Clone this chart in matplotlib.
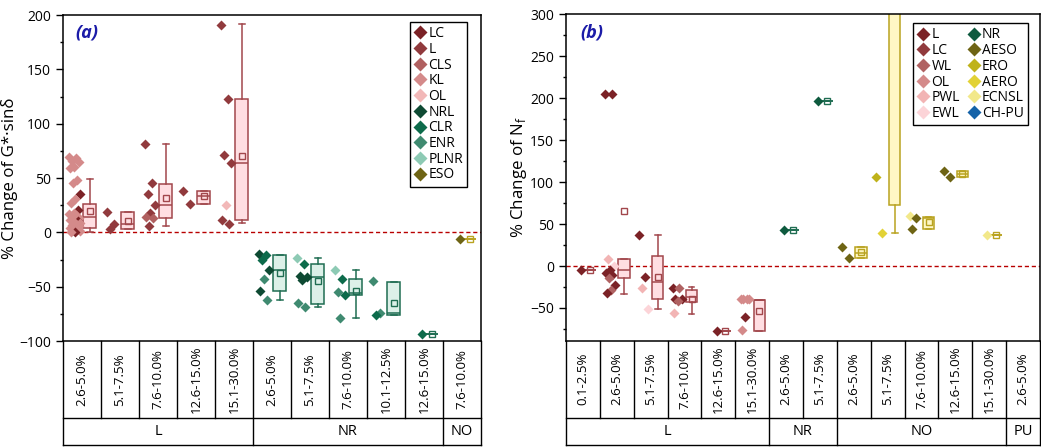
import matplotlib
matplotlib.use('Agg')
import matplotlib.pyplot as plt
import matplotlib.transforms as mtransforms
from matplotlib.lines import Line2D
from matplotlib.ticker import MultipleLocator

plt.rcParams['font.family'] = ['Open Sans', 'DejaVu Sans']
plt.rcParams['mathtext.fontset'] = 'custom'
plt.rcParams['mathtext.rm'] = 'Open Sans'

# ---------------- panel (a): G*sin(delta) ----------------
a_ranges = ['2.6-5.0%', '5.1-7.5%', '7.6-10.0%', '12.6-15.0%', '15.1-30.0%',
            '2.6-5.0%', '5.1-7.5%', '7.6-10.0%', '10.1-12.5%', '12.6-15.0%',
            '7.6-10.0%']
a_groups = ['L', 'NR', 'NO']
a_spans = [5, 5, 1]
a_kind = ['L'] * 5 + ['NR'] * 5 + ['NO']

# individual results, keyed by column
a_LC = {0: [35, 21, 10, 0]}
a_L = {1: [19, 8, 3], 2: [81.6, 45, 35, 25, 17.6, 6], 3: [38.5, 26.5],
       4: [191, 122.7, 71.4, 63.8, 11.5, 7.8]}
a_CLS = {2: [13, 14]}
a_KL = {0: [69, 68, 66, 65, 60, 59, 48, 45, 31, 27, 18, 17, 16, 15, 13, 12,
            11, 10, 9, 8, 7, 6, 5, 4, 3, 2, 1, 0]}
a_OL = {4: [25.3]}
a_NRL = {5: [-19.8, -34.6, -53.9], 6: [-39.8, -41.3, -43.8]}
a_CLR = {5: [-20.7, -25.3], 6: [-29], 7: [-43.2, -57.6], 8: [-76], 9: [-93.9]}
a_ENR = {5: [-43.2, -62.5], 6: [-65.3, -69], 7: [-54.5, -78.5], 8: [-44.7, -74.5]}
a_PLNR = {6: [-23.8], 7: [-34.6]}
a_ESO = {10: [-6.3]}

# box statistics per column
a_q1 = [4, 3, 13, 26.5, 11.5, -53.9, -65.9, -57.6, -76, -93.9, -6.3]
a_med = [14.3, 8, 25.3, 33, 63.8, -34.6, -41.3, -56, -74.5, -93.9, -6.3]
a_q3 = [26, 19, 44.7, 38.5, 122.7, -20.7, -29, -43.2, -45.3, -93.9, -6.3]
a_lo = [0, 3, 6, 26.5, 9, -62.5, -68.4, -78.5, -76, -93.9, -6.3]
a_hi = [49.3, 19, 81.6, 38.5, 191.5, -20.7, -23.5, -34.6, -45.3, -93.9, -6.3]
a_mean = [20, 10, 31.8, 33, 70.5, -37, -44.7, -53.9, -65.3, -93.9, -6.3]

# ---------------- panel (b): fatigue life ----------------
b_ranges = ['0.1-2.5%', '2.6-5.0%', '5.1-7.5%', '7.6-10.0%', '12.6-15.0%',
            '15.1-30.0%', '2.6-5.0%', '5.1-7.5%', '2.6-5.0%', '5.1-7.5%',
            '7.6-10.0%', '12.6-15.0%', '15.1-30.0%', '2.6-5.0%']
b_groups = ['L', 'NR', 'NO', 'PU']
b_spans = [6, 2, 5, 1]
b_kind = ['L'] * 6 + ['NR'] * 2 + ['NO'] * 5

b_L = {0: [-5], 1: [205, 205, -5.3, -8.5, -10.5, -22.6, -32.5],
       2: [36.5, -13.5], 3: [-26.6, -39.3, -39.3], 4: [-77.8], 5: [-60.5]}
b_LC = {}
b_WL = {1: [-14.5, -28.5], 3: [-26.6, -42]}
b_OL = {5: [-39.6, -39.6, -39.6, -39.6, -76]}
b_PWL = {1: [8.5], 2: [-26.5], 3: [-56.3]}
b_EWL = {1: [-0.3], 2: [-51.5]}
b_NR = {6: [43], 7: [197]}
b_AESO = {8: [10, 23], 10: [44, 56.7], 11: [105.6, 113.5]}
b_ERO = {9: [105.6]}
b_AERO = {9: [39]}
b_ECNSL = {10: [59.5], 12: [36.5]}
b_CHPU = {}

b_q1 = [-5, -14.3, -39.3, -43.3, -77.8, -77, 43, 197, 9.2, 73, 44.4, 106, 36.5]
b_med = [-5, -5.2, -19.5, -37.5, -77.8, -40.2, 43, 197, 16, 380, 56.7, 109.5, 36.5]
b_q3 = [-5, 8, 11.5, -28.3, -77.8, -40.2, 43, 197, 23, 460, 59, 112.7, 36.5]
b_lo = [-5, -33, -51.5, -57, -77.8, -77, 43, 197, 9.2, 39, 44.4, 106, 36.5]
b_hi = [-5, 8, 36.5, -25.4, -77.8, -40.2, 43, 197, 23, 460, 59, 112.7, 36.5]
b_mean = [-5, 65, -13.5, -39.6, -77.8, -53.5, 43, 197, 16.3, 330, 52.8, 109.5, 36.5]

box_face = {'L': '#ffdee2', 'NR': '#dcf0e8', 'NO': '#fff7c4'}
box_edge = {'L': '#a2474c', 'NR': '#1f6d52', 'NO': '#b9a321'}

a_series = [('LC', a_LC, '#7b2226'), ('L', a_L, '#913a3d'), ('CLS', a_CLS, '#b06060'),
            ('KL', a_KL, '#d48a8a'), ('OL', a_OL, '#f2b8b8'), ('NRL', a_NRL, '#0e4a33'),
            ('CLR', a_CLR, '#0d6b4b'), ('ENR', a_ENR, '#3f8a70'), ('PLNR', a_PLNR, '#8dcab4'),
            ('ESO', a_ESO, '#6e6414')]
b_series = [('L', b_L, '#7b2226'), ('LC', b_LC, '#913a3d'), ('WL', b_WL, '#b06262'),
            ('OL', b_OL, '#d48a8a'), ('PWL', b_PWL, '#f2b4b4'), ('EWL', b_EWL, '#fcd4d8'),
            ('NR', b_NR, '#0e5a3e'), ('AESO', b_AESO, '#6e6414'), ('ERO', b_ERO, '#bfb21a'),
            ('AERO', b_AERO, '#e2d236'), ('ECNSL', b_ECNSL, '#f2e88a'),
            ('CH-PU', b_CHPU, '#1462a8')]


def draw_points(ax, series, ncol):
    for i in range(ncol):
        pts = []
        for name, data, color in series:
            for v in data.get(i, []):
                pts.append((v, color))
        pts.sort(key=lambda p: -p[0])
        for k, (v, c) in enumerate(pts):
            if len(pts) == 1:
                off = -0.05
            else:
                off = -0.34 + 0.30 * ((k * 0.618034) % 1)
            ax.plot(i + off, v, marker='D', ms=4.9, color=c, mec='none',
                    ls='none', zorder=3)


def draw_boxes(ax, kinds, q1, med, q3, lo, hi, mean):
    for i, kind in enumerate(kinds):
        st = dict(q1=q1[i], med=med[i], q3=q3[i], whislo=lo[i], whishi=hi[i],
                  mean=mean[i], fliers=[])
        e = box_edge[kind]
        ax.bxp([st], positions=[i + 0.21], widths=0.34, capwidths=0.17,
               patch_artist=True, showmeans=True, showfliers=False,
               boxprops=dict(facecolor=box_face[kind], edgecolor=e, lw=1.1),
               medianprops=dict(color=e, lw=1.1),
               whiskerprops=dict(color=e, lw=1.1),
               capprops=dict(color=e, lw=1.1),
               meanprops=dict(marker='s', ms=3.8, mfc='none', mec=e, mew=1.0),
               manage_ticks=False, zorder=2)


def draw_table(ax, ranges, groups, spans):
    n = len(ranges)
    tr = mtransforms.blended_transform_factory(ax.transData, ax.transAxes)
    r1, r2 = -0.236, -0.319
    kw = dict(transform=tr, color='black', lw=1.0, clip_on=False)
    ax.add_line(Line2D([-0.5, n - 0.5], [r1, r1], **kw))
    ax.add_line(Line2D([-0.5, n - 0.5], [r2, r2], **kw))
    edges = [-0.5]
    for s in spans:
        edges.append(edges[-1] + s)
    for j in range(n + 1):
        x = j - 0.5
        bottom = r2 if x in edges else r1
        ax.add_line(Line2D([x, x], [0, bottom], **kw))
    for i, lab in enumerate(ranges):
        ax.text(i, r1 / 2, lab, transform=tr, rotation=90, ha='center',
                va='center', fontsize=9.5)
    for g, a, b in zip(groups, edges[:-1], edges[1:]):
        ax.text((a + b) / 2, (r1 + r2) / 2, g, transform=tr, ha='center',
                va='center', fontsize=10.5)


def style_axis(ax, n, ylim, ylabel, tag):
    ax.set_xlim(-0.5, n - 0.5)
    ax.set_ylim(*ylim)
    ax.axhline(0, color='#b80000', lw=1.0, ls=(0, (3, 2)), zorder=1)
    ax.set_xticks([])
    ax.yaxis.set_major_locator(MultipleLocator(50))
    ax.yaxis.set_minor_locator(MultipleLocator(25))
    ax.tick_params(axis='y', which='major', direction='out', length=5, width=1,
                   labelsize=10)
    ax.tick_params(axis='y', which='minor', direction='out', length=2.5, width=1)
    for sp in ax.spines.values():
        sp.set_linewidth(1.1)
    ax.set_ylabel(ylabel, fontsize=12.2, labelpad=1)
    ax.text(0.03, 0.945, tag, transform=ax.transAxes, fontsize=13,
            fontweight='bold', style='italic', color='#1c1ca8', va='center')


def legend_handles(series):
    return [Line2D([], [], marker='D', ms=7, color=c, mec='none', ls='none',
                   label=name) for name, _, c in series]


fig = plt.figure(figsize=(10.41, 4.47), dpi=100)
ax1 = fig.add_axes([0.0605, 0.2371, 0.4015, 0.7293])
ax2 = fig.add_axes([0.5437, 0.2378, 0.4553, 0.7302])

draw_boxes(ax1, a_kind, a_q1, a_med, a_q3, a_lo, a_hi, a_mean)
draw_points(ax1, a_series, len(a_ranges))
style_axis(ax1, len(a_ranges), (-100, 200), '% Change of G*\u00b7sin\u03b4', '(a)')
draw_table(ax1, a_ranges, a_groups, a_spans)
leg1 = ax1.legend(handles=legend_handles(a_series), loc='upper right',
                  bbox_to_anchor=(0.9665, 0.9785), borderaxespad=0, fontsize=10,
                  handlelength=0.8, handletextpad=0.2, labelspacing=0.05,
                  borderpad=0.3, fancybox=False, edgecolor='black', framealpha=1)
leg1.get_frame().set_linewidth(1.0)

draw_boxes(ax2, b_kind, b_q1, b_med, b_q3, b_lo, b_hi, b_mean)
draw_points(ax2, b_series, len(b_ranges))
style_axis(ax2, len(b_ranges), (-89, 300), r'% Change of N$_\mathregular{f}$', '(b)')
draw_table(ax2, b_ranges, b_groups, b_spans)
leg2 = ax2.legend(handles=legend_handles(b_series), loc='upper right', ncol=2,
                  bbox_to_anchor=(0.9747, 0.9725), borderaxespad=0, fontsize=10,
                  handlelength=0.8, handletextpad=0.2, labelspacing=0.05,
                  columnspacing=0.6, borderpad=0.3, fancybox=False,
                  edgecolor='black', framealpha=1)
leg2.get_frame().set_linewidth(1.0)

fig.savefig('out.png', dpi=100)
